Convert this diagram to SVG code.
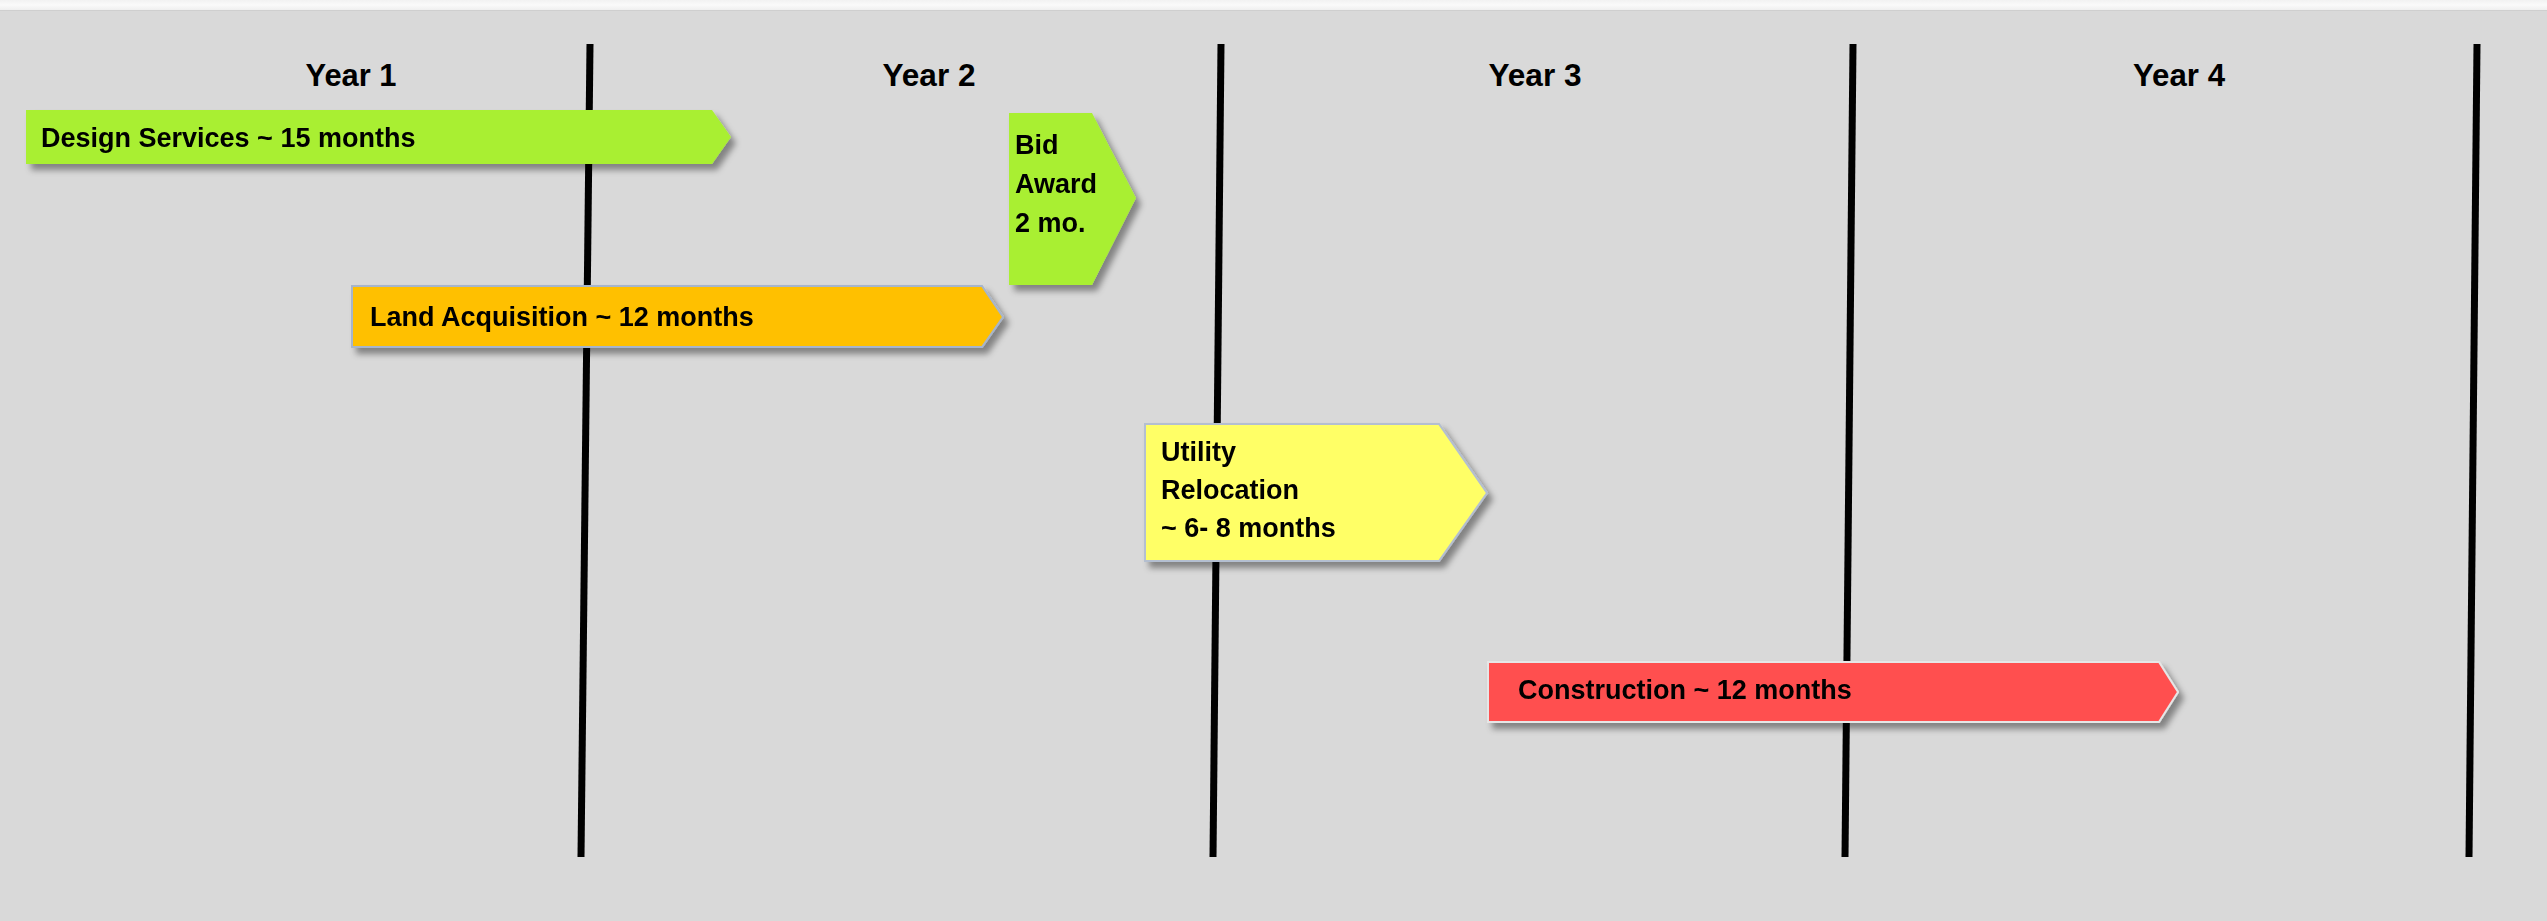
<svg xmlns="http://www.w3.org/2000/svg" width="2547" height="921" viewBox="0 0 2547 921">
<defs>
<filter id="sh" x="-5%" y="-20%" width="115%" height="150%">
<feDropShadow dx="5" dy="6" stdDeviation="3" flood-color="#000" flood-opacity="0.4"/>
</filter>
<linearGradient id="topband" x1="0" y1="0" x2="0" y2="1">
<stop offset="0" stop-color="#f2f2f2"/>
<stop offset="0.5" stop-color="#fafafa"/>
<stop offset="1" stop-color="#efefef"/>
</linearGradient>
</defs>
<style>
.yr{font-family:"Liberation Sans",Arial,sans-serif;font-weight:bold;font-size:32px;fill:#000;text-anchor:middle}
.lb{font-family:"Liberation Sans",Arial,sans-serif;font-weight:bold;font-size:27px;fill:#000}
.vl{stroke:#000;stroke-width:7;fill:none}
.box{filter:url(#sh)}
</style>
<rect x="0" y="0" width="2547" height="921" fill="#d9d9d9"/>
<rect x="0" y="0" width="2547" height="10" fill="url(#topband)"/>
<line x1="0" y1="10.5" x2="2547" y2="10.5" stroke="#cfcfcf" stroke-width="1"/>

<g id="year-labels">
<text class="yr" x="351" y="86" textLength="91" lengthAdjust="spacingAndGlyphs">Year 1</text>
<text class="yr" x="929" y="86" textLength="93" lengthAdjust="spacingAndGlyphs">Year 2</text>
<text class="yr" x="1535" y="86" textLength="93" lengthAdjust="spacingAndGlyphs">Year 3</text>
<text class="yr" x="2179" y="86" textLength="92" lengthAdjust="spacingAndGlyphs">Year 4</text>
</g>

<g id="connectors">
<line class="vl" x1="590" y1="44" x2="581" y2="857"/>
<line class="vl" x1="1221" y1="44" x2="1213" y2="857"/>
<line class="vl" x1="1853" y1="44" x2="1845" y2="857"/>
<line class="vl" x1="2477" y1="44" x2="2469" y2="857"/>
</g>

<g id="design-services" class="box">
<polygon points="26,110 712,110 731,137 712,164 26,164" fill="#a9ef33"/>
<text class="lb" x="41" y="147">Design Services ~ 15 months</text>
</g>

<g id="bid-award" class="box">
<polygon points="1009,113 1092,113 1136,198 1092,285 1009,285" fill="#a9ef33"/>
<text class="lb" x="1015" y="154">Bid</text>
<text class="lb" x="1015" y="193">Award</text>
<text class="lb" x="1015" y="232">2 mo.</text>
</g>

<g id="land-acquisition" class="box">
<polygon points="352,286 982,286 1003,317 982,347 352,347" fill="#ffc000" stroke="#a7b5cb" stroke-width="2"/>
<text class="lb" x="370" y="326">Land Acquisition ~ 12 months</text>
</g>

<g id="utility-relocation" class="box">
<polygon points="1145,424 1439,424 1487,493 1439,561 1145,561" fill="#ffff66" stroke="#b4bfd0" stroke-width="2"/>
<text class="lb" x="1161" y="461">Utility</text>
<text class="lb" x="1161" y="499">Relocation</text>
<text class="lb" x="1161" y="537">~ 6- 8 months</text>
</g>

<g id="construction" class="box">
<polygon points="1488,662 2159,662 2178,692 2159,722 1488,722" fill="#ff5050" stroke="#e6e6e6" stroke-width="2"/>
<text class="lb" x="1518" y="699">Construction ~ 12 months</text>
</g>
</svg>
